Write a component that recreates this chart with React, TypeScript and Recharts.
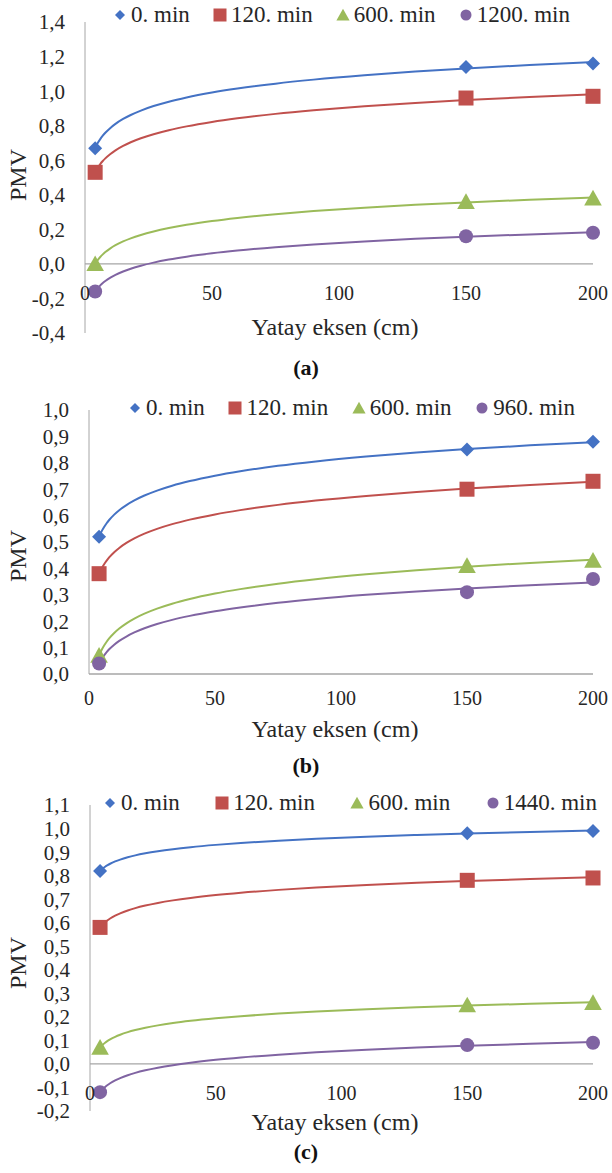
import React from "react";
import { ComposedChart, Line, Scatter, XAxis, YAxis, ReferenceLine } from "recharts";

const FONT = '"Liberation Serif", Tinos, "Times New Roman", "DejaVu Serif", serif';
const TEXT = "#262626";
const GRID = "#a6a6a6";
const COLORS = ["#4472C4", "#C0504D", "#9BBB59", "#8064A2"];
const SHAPES = ["diamond", "square", "triangle", "circle"];

// ölçüm noktaları (cm), her seride aynı
const xPos = [4, 150, 200];
const xTicks = [0, 50, 100, 150, 200];
// trend çizgisinin çizildiği x değerleri
const trendX = [4, 5, 6, 7, 8, 10, 12, 15, 18, 22, 27, 33, 40, 50, 60, 75, 90, 110, 130, 150, 175, 200];

// (a)
const namesA = ["0. min", "120. min", "600. min", "1200. min"];
const a0 = [0.67, 1.14, 1.16];
const a120 = [0.53, 0.96, 0.97];
const a600 = [0.0, 0.36, 0.38];
const a1200 = [-0.16, 0.16, 0.18];
const yTicksA = [-0.4, -0.2, 0, 0.2, 0.4, 0.6, 0.8, 1.0, 1.2, 1.4];

// (b)
const namesB = ["0. min", "120. min", "600. min", "960. min"];
const b0 = [0.52, 0.85, 0.88];
const b120 = [0.38, 0.7, 0.73];
const b600 = [0.07, 0.41, 0.43];
const b960 = [0.04, 0.31, 0.36];
const yTicksB = [0, 0.1, 0.2, 0.3, 0.4, 0.5, 0.6, 0.7, 0.8, 0.9, 1.0];

// (c)
const namesC = ["0. min", "120. min", "600. min", "1440. min"];
const c0 = [0.82, 0.98, 0.99];
const c120 = [0.58, 0.78, 0.79];
const c600 = [0.07, 0.25, 0.26];
const c1440 = [-0.12, 0.08, 0.09];
const yTicksC = [-0.2, -0.1, 0, 0.1, 0.2, 0.3, 0.4, 0.5, 0.6, 0.7, 0.8, 0.9, 1.0, 1.1];

// Excel'deki logaritmik eğilim çizgisi: y = a ln(x) + b (en küçük kareler)
function logFit(xs: number[], ys: number[]) {
  const lx = xs.map(Math.log);
  const n = xs.length;
  const mx = lx.reduce((s, v) => s + v, 0) / n;
  const my = ys.reduce((s, v) => s + v, 0) / n;
  let num = 0;
  let den = 0;
  lx.forEach((v, i) => {
    num += (v - mx) * (ys[i] - my);
    den += (v - mx) * (v - mx);
  });
  const a = num / den;
  const b = my - a * mx;
  return (x: number) => a * Math.log(x) + b;
}

const fmt = (v: number) => v.toFixed(1).replace(".", ",");

const Marker = ({ kind, cx, cy, color, s }: any) => {
  if (kind === "diamond")
    return <path d={`M${cx},${cy - s}L${cx + s},${cy}L${cx},${cy + s}L${cx - s},${cy}Z`} fill={color} />;
  if (kind === "square")
    return <rect x={cx - s} y={cy - s} width={s * 2} height={s * 2} fill={color} />;
  if (kind === "triangle")
    return <path d={`M${cx},${cy - s * 1.05}L${cx + s * 1.1},${cy + s * 0.9}L${cx - s * 1.1},${cy + s * 0.9}Z`} fill={color} />;
  return <circle cx={cx} cy={cy} r={s} fill={color} />;
};

const markerSize = [7, 7.5, 8, 7];
const legendSize = [5, 6.5, 6, 5.5];
const X_H = 30;

interface PanelProps {
  top: number;
  height: number;
  names: string[];
  values: number[][];
  yTicks: number[];
  axisX: number;
  plotTop: number;
  plotBottom: number;
  tickOff: number;
  legendY: number;
  legendL: number;
  legendR: number;
  pmvY: number;
  titleY: number;
  capY: number;
  caption: string;
}

const Panel = (p: PanelProps) => {
  const fits = p.values.map((v) => logFit(xPos, v));
  const trend = trendX.map((x) => {
    const row: any = { x };
    fits.forEach((f, i) => (row["s" + i] = f(x)));
    return row;
  });
  const H = p.height;
  // plotBottom sayfa koordinatında; tick metni sıfır çizgisinin hemen altına konur
  const bottomLocal = p.plotBottom - p.top;
  const renderTick = (tp: any) => (
    <text
      x={tp.x}
      y={bottomLocal + p.tickOff}
      textAnchor="middle"
      fontSize={20}
      fill={TEXT}
      fontFamily={FONT}
    >
      {tp.payload.value}
    </text>
  );

  return (
    <div style={{ position: "absolute", left: 0, top: p.top, width: 612, height: H }}>
      <ComposedChart
        width={612}
        height={H}
        data={trend}
        margin={{ top: p.plotTop - p.top, right: 19, bottom: H - bottomLocal - X_H, left: 0 }}
        style={{ fontFamily: FONT }}
      >
        <XAxis
          type="number"
          dataKey="x"
          domain={[0, 200]}
          ticks={xTicks}
          interval={0}
          height={X_H}
          axisLine={false}
          tickLine={false}
          tick={renderTick}
        />
        <YAxis
          type="number"
          domain={[p.yTicks[0], p.yTicks[p.yTicks.length - 1]]}
          ticks={p.yTicks}
          interval={0}
          width={p.axisX}
          tickFormatter={fmt}
          axisLine={{ stroke: GRID }}
          tickLine={false}
          tickSize={0}
          tickMargin={20}
          tick={{ fontSize: 21, fill: TEXT, fontFamily: FONT }}
        />
        <ReferenceLine y={0} stroke={GRID} strokeWidth={1.3} />
        {p.names.map((n, i) => (
          <Line
            key={"l" + n}
            dataKey={"s" + i}
            type="monotone"
            stroke={COLORS[i]}
            strokeWidth={2}
            dot={false}
            activeDot={false}
            isAnimationActive={false}
          />
        ))}
        {p.names.map((n, i) => (
          <Scatter
            key={"p" + n}
            name={n}
            data={xPos.map((x, j) => ({ x, y: p.values[i][j] }))}
            dataKey="y"
            isAnimationActive={false}
            shape={(sp: any) => <Marker kind={SHAPES[i]} cx={sp.cx} cy={sp.cy} color={COLORS[i]} s={markerSize[i]} />}
          />
        ))}
      </ComposedChart>

      {/* lejant */}
      <div
        style={{
          position: "absolute",
          left: p.legendL,
          width: p.legendR - p.legendL,
          top: p.legendY - p.top - 13,
          height: 26,
          display: "flex",
          justifyContent: "space-between",
          alignItems: "center",
          fontFamily: FONT,
          fontSize: 23,
          color: TEXT,
        }}
      >
        {p.names.map((n, i) => (
          <div key={n} style={{ display: "flex", alignItems: "center", gap: 4 }}>
            <svg width={14} height={14}>
              <Marker kind={SHAPES[i]} cx={7} cy={7} color={COLORS[i]} s={legendSize[i]} />
            </svg>
            <span style={{ whiteSpace: "pre" }}>{n}</span>
          </div>
        ))}
      </div>

      <div
        style={{
          position: "absolute",
          left: 18 - 40,
          top: p.pmvY - p.top - 14,
          width: 80,
          height: 28,
          lineHeight: "28px",
          textAlign: "center",
          transform: "rotate(-90deg)",
          fontFamily: FONT,
          fontSize: 24,
          color: TEXT,
        }}
      >
        PMV
      </div>

      <div
        style={{
          position: "absolute",
          left: 335 - 150,
          width: 300,
          top: p.titleY - p.top - 14,
          height: 28,
          lineHeight: "28px",
          textAlign: "center",
          fontFamily: FONT,
          fontSize: 24,
          color: TEXT,
        }}
      >
        Yatay eksen (cm)
      </div>

      <div
        style={{
          position: "absolute",
          left: 306 - 50,
          width: 100,
          top: p.capY - p.top - 14,
          height: 28,
          lineHeight: "28px",
          textAlign: "center",
          fontFamily: FONT,
          fontWeight: "bold",
          fontSize: 22,
          color: "#111",
        }}
      >
        {p.caption}
      </div>
    </div>
  );
};

export default function App() {
  return (
    <div style={{ position: "absolute", left: 0, top: 0, width: 612, height: 1173, background: "#fff", overflow: "hidden" }}>
      <Panel
        top={0}
        height={390}
        names={namesA}
        values={[a0, a120, a600, a1200]}
        yTicks={yTicksA}
        axisX={85}
        plotTop={22}
        plotBottom={333}
        tickOff={-33}
        legendY={15}
        legendL={113}
        legendR={570}
        pmvY={175}
        titleY={327}
        capY={368}
        caption="(a)"
      />
      <Panel
        top={390}
        height={390}
        names={namesB}
        values={[b0, b120, b600, b960]}
        yTicks={yTicksB}
        axisX={89}
        plotTop={410}
        plotBottom={674}
        tickOff={31}
        legendY={408}
        legendL={128}
        legendR={575}
        pmvY={556}
        titleY={729}
        capY={766}
        caption="(b)"
      />
      <Panel
        top={780}
        height={393}
        names={namesC}
        values={[c0, c120, c600, c1440]}
        yTicks={yTicksC}
        axisX={90}
        plotTop={805}
        plotBottom={1111}
        tickOff={-11}
        legendY={803}
        legendL={103}
        legendR={597}
        pmvY={963}
        titleY={1122}
        capY={1152}
        caption="(c)"
      />
    </div>
  );
}
